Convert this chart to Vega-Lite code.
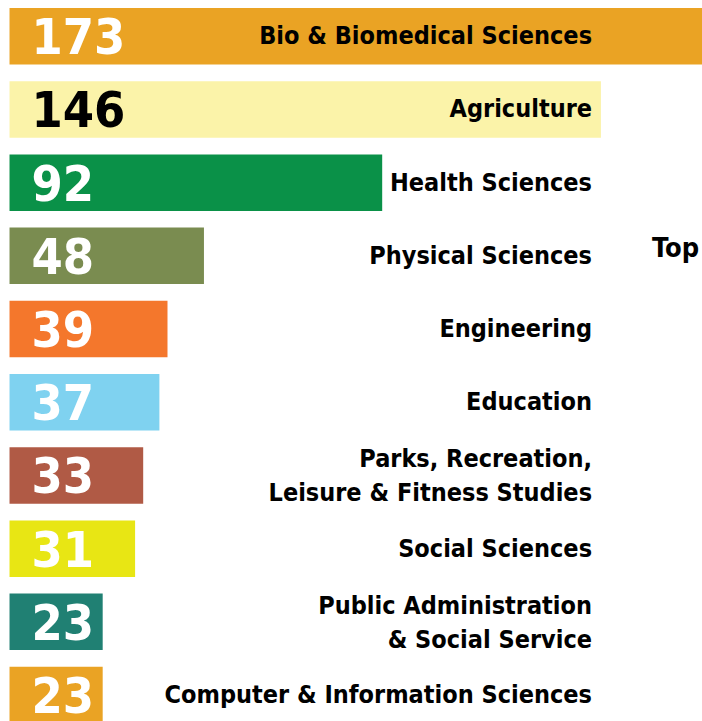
{
  "$schema": "https://vega.github.io/schema/vega-lite/v6.json",
  "width": 702,
  "height": 721,
  "autosize": {"type": "none"},
  "padding": 0,
  "background": "white",
  "config": {"view": {"stroke": null}, "text": {"font": "DejaVu Sans Condensed, DejaVu Sans, sans-serif", "fontWeight": "bold"}},
  "data": {
    "values": [
      {"field": "Bio & Biomedical Sciences", "count": 173, "lines": 1},
      {"field": "Agriculture", "count": 146, "lines": 1},
      {"field": "Health Sciences", "count": 92, "lines": 1},
      {"field": "Physical Sciences", "count": 48, "lines": 1},
      {"field": "Engineering", "count": 39, "lines": 1},
      {"field": "Education", "count": 37, "lines": 1},
      {"field": "Parks, Recreation,\nLeisure & Fitness Studies", "count": 33, "lines": 2},
      {"field": "Social Sciences", "count": 31, "lines": 1},
      {"field": "Public Administration\n& Social Service", "count": 23, "lines": 2},
      {"field": "Computer & Information Sciences", "count": 23, "lines": 1}
    ]
  },
  "encoding": {
    "y": {
      "field": "field", "type": "nominal", "sort": null, "axis": null,
      "scale": {"range": [8, 723.3], "paddingInner": 0.228, "paddingOuter": 0}
    }
  },
  "layer": [
    {
      "mark": {"type": "bar", "clip": true},
      "encoding": {
        "x": {"field": "count", "type": "quantitative", "axis": null, "scale": {"domain": [-2.35, 170.95], "zero": false, "nice": false}},
        "x2": {"datum": 0},
        "color": {
          "field": "field", "type": "nominal", "legend": null,
          "scale": {
            "domain": ["Bio & Biomedical Sciences", "Agriculture", "Health Sciences", "Physical Sciences", "Engineering", "Education", "Parks, Recreation,\nLeisure & Fitness Studies", "Social Sciences", "Public Administration\n& Social Service", "Computer & Information Sciences"],
            "range": ["#EAA324", "#FBF3A9", "#0A9148", "#7A8C50", "#F4772C", "#7FD2F0", "#B05A45", "#E8E614", "#208073", "#EAA324"]
          }
        }
      }
    },
    {
      "mark": {"type": "text", "align": "left", "baseline": "middle", "fontSize": 50, "dx": 22, "dy": 3},
      "encoding": {
        "x": {"datum": 0},
        "text": {"field": "count", "type": "quantitative"},
        "color": {"condition": {"test": "datum.field === 'Agriculture'", "value": "#000000"}, "value": "#FFFFFF"}
      }
    },
    {
      "transform": [{"filter": "datum.lines === 1"}],
      "mark": {"type": "text", "align": "right", "baseline": "middle", "fontSize": 25, "color": "#000000"},
      "encoding": {
        "x": {"datum": 143.8},
        "text": {"field": "field", "type": "nominal"}
      }
    },
    {
      "transform": [{"filter": "datum.lines === 2"}],
      "mark": {"type": "text", "align": "right", "baseline": "middle", "fontSize": 25, "lineBreak": "\n", "lineHeight": 34, "dy": -16, "color": "#000000"},
      "encoding": {
        "x": {"datum": 143.8},
        "text": {"field": "field", "type": "nominal"}
      }
    },
    {
      "data": {"values": [{"note": "Top", "row": "Physical Sciences"}]},
      "mark": {"type": "text", "align": "left", "baseline": "middle", "fontSize": 27, "dy": -7, "color": "#000000"},
      "encoding": {
        "x": {"datum": 158.6},
        "y": {"field": "row", "type": "nominal"},
        "text": {"field": "note", "type": "nominal"}
      }
    }
  ]
}
